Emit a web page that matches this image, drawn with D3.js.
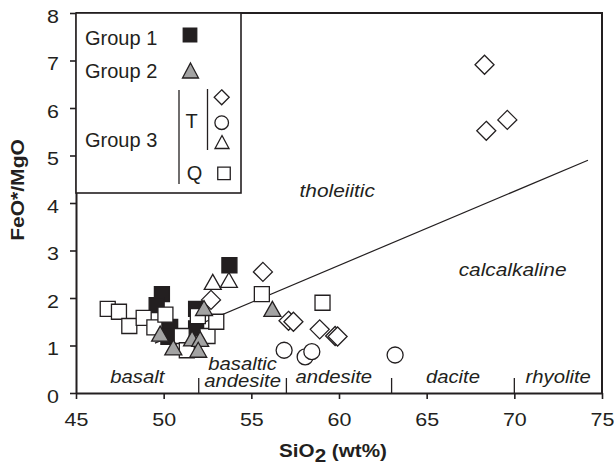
<!DOCTYPE html>
<html>
<head>
<meta charset="utf-8">
<script src="https://cdn.jsdelivr.net/npm/d3@7/dist/d3.min.js"></script>
<style>
  body { margin: 0; background: #fff; }
  svg { display: block; font-family: "Liberation Sans", Arial, sans-serif; }
</style>
</head>
<body>
<div id="chart"></div>
<script>
// Group 1 (filled squares)
const g1Si = [49.9, 49.6, 50.37, 50.27, 51.85, 51.85, 53.75]
const g1Fe = [2.08, 1.85, 1.39, 1.18, 1.77, 1.36, 2.69]
// Group 2 (grey triangles)
const g2Si = [49.8, 50.55, 51.62, 52.08, 51.97, 52.3, 56.2]
const g2Fe = [1.25, 0.96, 1.15, 1.14, 0.91, 1.79, 1.77]
// Group 3, T: diamonds, circles, open triangles
const tDiaSi = [52.7, 55.66, 57.12, 57.4, 58.9, 59.78, 59.92, 68.3, 68.4, 69.6]
const tDiaFe = [1.96, 2.55, 1.52, 1.5, 1.34, 1.2, 1.19, 6.91, 5.52, 5.75]
const tCirSi = [56.87, 58.07, 58.45, 63.2]
const tCirFe = [0.9, 0.76, 0.87, 0.8]
const tTriSi = [52.8, 53.72]
const tTriFe = [2.34, 2.38]
// Group 3, Q: open squares
const qSi = [46.81, 47.45, 48.04, 48.86, 49.47, 50.1, 51.03, 51.32, 51.95, 52.5, 53.0, 55.6, 59.06]
const qFe = [1.77, 1.71, 1.41, 1.58, 1.38, 1.65, 1.2, 0.9, 1.62, 1.2, 1.5, 2.08, 1.9]

// tholeiitic / calcalkaline divide
const divideSi = [49.5, 74.2]
const divideFe = [1.05, 4.9]

// rock name fields
const rockBounds = [52, 57, 63, 70]
const rockNames = ["basalt", "basaltic", "andesite", "andesite", "dacite", "rhyolite"]
const rockSi = [48.5, 54.5, 54.5, 59.7, 66.5, 72.5]
const rockLine = [0, -1, 0, 0, 0, 0]

const xTicks = [45, 50, 55, 60, 65, 70, 75]
const yTicks = [0, 1, 2, 3, 4, 5, 6, 7, 8]

const width = 614
const height = 470
const margin = { top: 13, right: 12, bottom: 77, left: 76 }
const ink = "#231f20"
const SX = 1.16

const svg = d3.select("#chart").append("svg")
    .attr("width", width)
    .attr("height", height)

const x = d3.scaleLinear().domain([45, 75]).range([margin.left, width - margin.right])
const y = d3.scaleLinear().domain([0, 8]).range([height - margin.bottom, margin.top])

// frame: top and right lines
svg.append("path")
    .attr("d", `M${x(45)},${y(8)}H${x(75)}V${y(0)}`)
    .attr("fill", "none").attr("stroke", ink).attr("stroke-width", 2)

const xAxis = svg.append("g")
    .attr("transform", `translate(0,${y(0)})`)
    .call(d3.axisBottom(x).tickValues(xTicks).tickSize(6).tickPadding(14).tickSizeOuter(0))
const yAxis = svg.append("g")
    .attr("transform", `translate(${x(45)},0)`)
    .call(d3.axisLeft(y).tickValues(yTicks).tickSize(6).tickPadding(11).tickSizeOuter(0))

;[xAxis, yAxis].forEach((ax) => {
    ax.select(".domain").attr("stroke", ink).attr("stroke-width", 2)
    ax.selectAll(".tick line").attr("stroke", ink).attr("stroke-width", 1.6)
    ax.selectAll("text").attr("fill", ink).attr("font-size", 18.5)
        .attr("font-family", "Liberation Sans, Arial, sans-serif")
})
xAxis.selectAll("text").attr("transform", `scale(${SX},1)`)
yAxis.selectAll("text").attr("x", -17 / SX).attr("dy", "0.5em").attr("transform", `scale(${SX},1)`)

function label(txt, px, py, opts = {}) {
    const t = svg.append("text")
        .attr("transform", `translate(${px},${py})${opts.rotate ? ` rotate(${opts.rotate})` : ""} scale(${opts.sx || 1},1)`)
        .attr("text-anchor", opts.anchor || "middle")
        .attr("font-size", opts.size || 18)
        .attr("font-style", opts.italic ? "italic" : null)
        .attr("font-weight", opts.bold ? "bold" : null)
        .attr("fill", ink)
        .text(txt)
    return t
}

// axis titles
const xt = label("SiO", 333, 457, { bold: true, size: 17.5, sx: 1.18 })
xt.append("tspan").attr("dy", 5).text("2")
xt.append("tspan").attr("dy", -5).text(" (wt%)")
label("FeO*/MgO", 24, 190, { bold: true, size: 18, sx: 1.17, rotate: -90 })

// rock field boundaries and names
svg.append("g").selectAll("line").data(rockBounds).join("line")
    .attr("x1", (d) => x(d)).attr("x2", (d) => x(d))
    .attr("y1", y(0)).attr("y2", y(0) - 15)
    .attr("stroke", ink).attr("stroke-width", 1.3)
rockNames.forEach((n, i) => {
    const base = i === 2 ? 387 : y(0) - 10 + rockLine[i] * 13
    label(n, x(rockSi[i]), base, { italic: true, size: 17.5, sx: SX })
})

label("tholeiitic", x(59.9), y(4.13), { italic: true, size: 18, sx: SX })
label("calcalkaline", x(69.9), y(2.46), { italic: true, size: 18, sx: SX })

// divide line
svg.append("path")
    .attr("d", d3.line().x((d) => x(d[0])).y((d) => y(d[1]))(d3.zip(divideSi, divideFe)))
    .attr("fill", "none").attr("stroke", ink).attr("stroke-width", 1.2)

// marker shapes
const sq = (s) => `M${-s / 2},${-s / 2}h${s}v${s}h${-s}Z`
const tri = (w, h) => `M0,${-h / 2}L${w / 2},${h / 2}H${-w / 2}Z`
const dia = (s) => `M0,${-s / 2}L${s / 2},0L0,${s / 2}L${-s / 2},0Z`
const circ = (r) => `M${r},0A${r},${r} 0 1,1 ${-r},0A${r},${r} 0 1,1 ${r},0Z`

function plot(xs, ys, shape, fill) {
    svg.append("g").selectAll("path").data(d3.zip(xs, ys)).join("path")
        .attr("transform", (d) => `translate(${x(d[0])},${y(d[1])})`)
        .attr("d", shape)
        .attr("fill", fill)
        .attr("stroke", ink)
        .attr("stroke-width", 1.3)
}

plot(g1Si, g1Fe, sq(15), ink)
plot(qSi, qFe, sq(15), "#fff")
plot(tDiaSi, tDiaFe, dia(19), "#fff")
plot(tTriSi, tTriFe, tri(17, 15), "#fff")
plot(tCirSi, tCirFe, circ(8), "#fff")
plot(g2Si, g2Fe, tri(17, 15), "#a3a3a3")

// legend
const lg = svg.append("g")
lg.append("rect")
    .attr("x", x(45)).attr("y", y(8))
    .attr("width", 165).attr("height", 180)
    .attr("fill", "#fff").attr("stroke", ink).attr("stroke-width", 1.6)
const legText = [["Group 1", 85, 44.5], ["Group 2", 85, 77.5], ["Group 3", 85, 146.5], ["T", 191.5, 128], ["Q", 194.5, 180]]
legText.forEach(([t, px, py]) => {
    lg.append("text").attr("x", px).attr("y", py)
        .attr("text-anchor", t.length === 1 ? "middle" : "start")
        .attr("font-size", 20).attr("fill", ink).text(t)
})
lg.append("line").attr("x1", 179).attr("x2", 179).attr("y1", 90).attr("y2", 184)
    .attr("stroke", ink).attr("stroke-width", 1.3)
lg.append("line").attr("x1", 207.5).attr("x2", 207.5).attr("y1", 89).attr("y2", 150)
    .attr("stroke", ink).attr("stroke-width", 1.3)
const legMarks = [
    [190, 35, sq(13.5), ink],
    [190.5, 70.5, tri(16, 15), "#a3a3a3"],
    [221.7, 97.3, dia(15), "#fff"],
    [221.7, 122.7, circ(6.8), "#fff"],
    [222, 142, tri(14, 13), "#fff"],
    [224, 173.3, sq(12.5), "#fff"],
]
legMarks.forEach(([px, py, d, f]) => {
    lg.append("path").attr("transform", `translate(${px},${py})`)
        .attr("d", d).attr("fill", f).attr("stroke", ink).attr("stroke-width", 1.3)
})
</script>
</body>
</html>
